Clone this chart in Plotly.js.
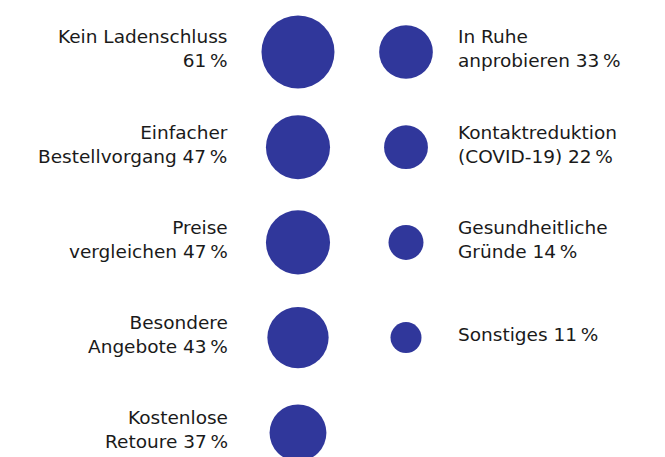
<!DOCTYPE html>
<html><head><meta charset="utf-8">
<script src="https://cdn.plot.ly/plotly-3.0.1.min.js"></script>
<style>html,body{margin:0;padding:0;background:#fff}#chart{width:665px;height:457px}</style>
</head><body><div id="chart"></div>
<script>
// Left column
const leftNames = ["Kein Ladenschluss<br>", "Einfacher<br>Bestellvorgang ", "Preise<br>vergleichen ", "Besondere<br>Angebote ", "Kostenlose<br>Retoure "];
const leftValues = [61, 47, 47, 43, 37];
// Right column
const rightNames = ["In Ruhe<br>anprobieren ", "Kontaktreduktion<br>(COVID-19) ", "Gesundheitliche<br>Gründe ", "Sonstiges "];
const rightValues = [33, 22, 14, 11];

const PCT = "\u202F%";
const bubbleColor = "#30379b";
const textColor = "#1a1a1a";
const FONT = "'DejaVu Sans', sans-serif";
const FSIZE = 18.5;
const sizeref = 2/87.4;

const leftRows = leftValues.map((v,i)=>i);
const rightRows = rightValues.map((v,i)=>i);

const traces = [
  {type:'scatter', mode:'markers', x: leftValues.map(()=>0), y: leftRows,
   marker:{size:leftValues, sizemode:'area', sizeref:sizeref, color:bubbleColor, opacity:1, line:{width:0}},
   hoverinfo:'skip', showlegend:false},
  {type:'scatter', mode:'markers', x: rightValues.map(()=>1), y: rightRows,
   marker:{size:rightValues, sizemode:'area', sizeref:sizeref, color:bubbleColor, opacity:1, line:{width:0}},
   hoverinfo:'skip', showlegend:false}
];

const annotations = [];
leftNames.forEach((n,i)=>{
  annotations.push({x:-0.625, y:i, xref:'x', yref:'y', xanchor:'right', yanchor:'middle', align:'right', yshift:3,
    text: n + leftValues[i] + PCT, showarrow:false, font:{family:FONT, size:FSIZE, color:textColor}});
});
rightNames.forEach((n,i)=>{
  annotations.push({x:1.465, y:i, xref:'x', yref:'y', xanchor:'left', yanchor:'middle', align:'left', yshift:3,
    text: n + rightValues[i] + PCT, showarrow:false, font:{family:FONT, size:FSIZE, color:textColor}});
});

const layout = {
  width:665, height:457, margin:{l:0,r:0,t:0,b:0},
  paper_bgcolor:'#fff', plot_bgcolor:'#fff',
  xaxis:{range:[-2.759, 3.398], visible:false, fixedrange:true},
  yaxis:{range:[4.254, -0.546], visible:false, fixedrange:true},
  annotations: annotations, showlegend:false
};
Plotly.newPlot('chart', traces, layout, {displayModeBar:false, staticPlot:true});
</script></body></html>
